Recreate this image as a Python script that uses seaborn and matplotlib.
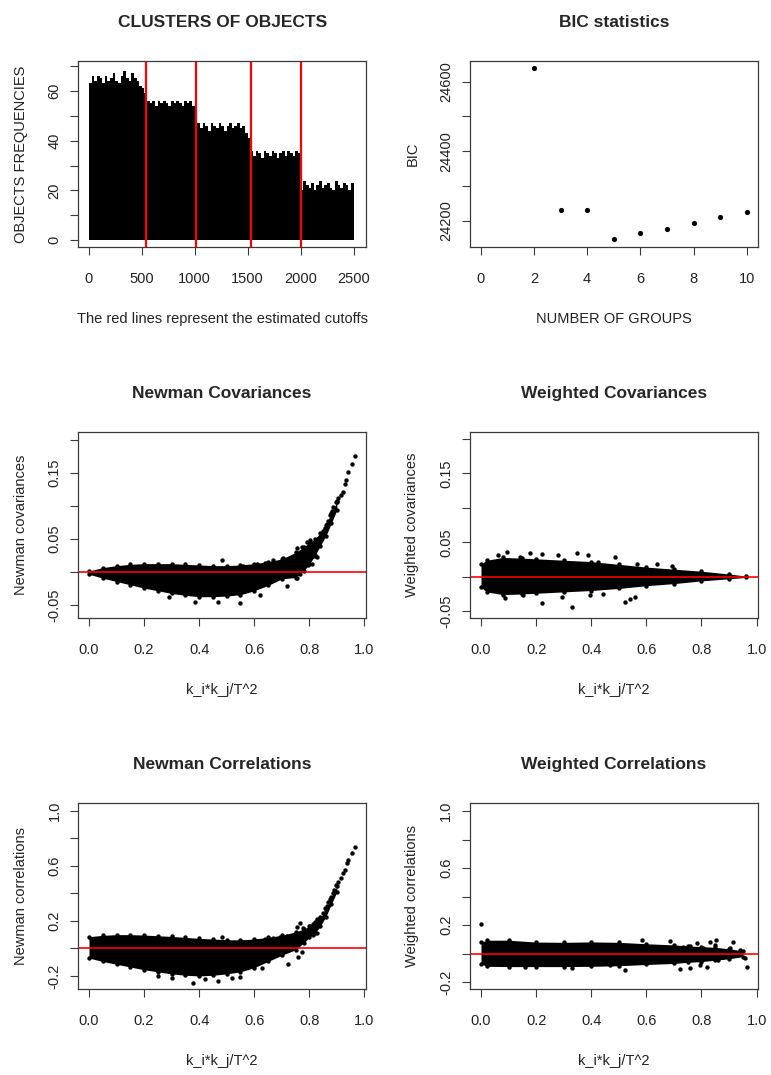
import numpy as np
import seaborn as sns
import matplotlib.pyplot as plt

# ---- data ----
# clusters of objects: heights per block of 25 objects (0..2500)
hist_seg1 = [63, 66, 64, 66, 65, 63, 66, 64, 65, 67, 64, 63, 66, 68, 65, 64, 67, 65, 64, 62, 61, 59]
hist_seg2 = [56, 55, 56, 54, 56, 55, 56, 55, 54, 56, 55, 56, 55, 54, 56, 55, 56, 54, 55]
hist_seg3 = [47, 45, 47, 46, 44, 47, 46, 45, 47, 46, 44, 46, 47, 45, 46, 47, 45, 46, 43, 41]
hist_seg4 = [36, 34, 36, 35, 33, 36, 35, 34, 36, 35, 33, 35, 36, 34, 36, 35, 34, 36, 35]
hist_seg5 = [20, 24, 22, 21, 23, 20, 22, 24, 21, 22, 23, 21, 20, 24, 22, 21, 23, 22, 20, 23]
cutoffs = [537, 1015, 1533, 2008]

# BIC statistics
groups = [2, 3, 4, 5, 6, 7, 8, 9, 10]
bic = [24638, 24232, 24232, 24147, 24165, 24176, 24193, 24210, 24224]

# Newman covariances: dense body (x, upper, lower) + single points
ncov_x = [0.0, 0.05, 0.10, 0.15, 0.20, 0.25, 0.30, 0.35, 0.40, 0.45, 0.50, 0.55, 0.60, 0.65, 0.70,
          0.75, 0.78, 0.80, 0.82, 0.84, 0.86, 0.88, 0.90]
ncov_hi = [0.002, 0.007, 0.010, 0.012, 0.013, 0.013, 0.013, 0.012, 0.011, 0.010, 0.010, 0.011, 0.013, 0.016, 0.020,
           0.030, 0.038, 0.045, 0.050, 0.060, 0.072, 0.090, 0.106]
ncov_lo = [-0.003, -0.009, -0.014, -0.019, -0.024, -0.028, -0.032, -0.035, -0.037, -0.037, -0.036, -0.034, -0.028, -0.020, -0.010,
           -0.008, 0.002, 0.012, 0.025, 0.040, 0.055, 0.074, 0.094]
ncov_px = [0.966, 0.954, 0.939, 0.933, 0.930, 0.924, 0.914, 0.905, 0.900, 0.896, 0.887, 0.884, 0.875, 0.869,
           0.863, 0.857, 0.849, 0.841, 0.834, 0.827, 0.818, 0.811, 0.803, 0.791, 0.815, 0.829, 0.778, 0.766,
           0.754, 0.773, 0.791, 0.803, 0.742, 0.718, 0.706, 0.670, 0.639, 0.609, 0.561, 0.482, 0.718, 0.766,
           0.754, 0.797, 0.809, 0.820, 0.549, 0.470, 0.386, 0.621, 0.289]
ncov_py = [0.176, 0.164, 0.152, 0.139, 0.133, 0.121, 0.117, 0.113, 0.108, 0.106, 0.098, 0.093, 0.086, 0.078,
           0.073, 0.067, 0.062, 0.056, 0.052, 0.048, 0.043, 0.038, 0.033, 0.028, 0.024, 0.023, 0.021, 0.023,
           0.036, 0.038, 0.046, 0.049, 0.021, 0.018, 0.021, 0.018, 0.014, 0.012, 0.010, 0.018, -0.021, -0.002,
           -0.009, 0.011, 0.013, 0.026, -0.046, -0.045, -0.045, -0.035, -0.037]

# Weighted covariances
wcov_x = [0.0, 0.02, 0.08, 0.15, 0.20, 0.30, 0.40, 0.50, 0.60, 0.70, 0.80, 0.90, 0.96]
wcov_hi = [0.018, 0.024, 0.028, 0.027, 0.026, 0.024, 0.022, 0.018, 0.014, 0.011, 0.008, 0.004, 0.001]
wcov_lo = [-0.015, -0.022, -0.026, -0.025, -0.024, -0.022, -0.020, -0.017, -0.013, -0.010, -0.006, -0.003, -0.001]
wcov_px = [0.093, 0.063, 0.178, 0.220, 0.280, 0.349, 0.389, 0.486, 0.565, 0.637, 0.692, 0.141, 0.425,
           0.220, 0.329, 0.522, 0.540, 0.559, 0.293, 0.087, 0.153, 0.395, 0.444]
wcov_py = [0.036, 0.032, 0.034, 0.033, 0.032, 0.035, 0.032, 0.028, 0.019, 0.018, 0.016, 0.029, 0.022,
           -0.038, -0.044, -0.036, -0.033, -0.029, -0.029, -0.031, -0.027, -0.027, -0.025]

# Newman correlations
ncor_x = [0.0, 0.05, 0.10, 0.15, 0.20, 0.25, 0.30, 0.35, 0.40, 0.45, 0.50, 0.55, 0.60, 0.65, 0.70,
          0.75, 0.78, 0.80, 0.82, 0.84, 0.86, 0.88, 0.90]
ncor_hi = [0.085, 0.095, 0.100, 0.100, 0.097, 0.092, 0.087, 0.080, 0.073, 0.068, 0.063, 0.062, 0.068, 0.080, 0.095,
           0.120, 0.140, 0.160, 0.185, 0.220, 0.280, 0.370, 0.450]
ncor_lo = [-0.070, -0.095, -0.115, -0.135, -0.155, -0.170, -0.185, -0.195, -0.200, -0.195, -0.185, -0.170, -0.140, -0.095, -0.050,
           -0.010, 0.040, 0.080, 0.110, 0.160, 0.230, 0.320, 0.410]
ncor_px = [0.966, 0.954, 0.942, 0.936, 0.930, 0.924, 0.914, 0.905, 0.897, 0.890, 0.885, 0.875, 0.869, 0.863,
           0.857, 0.849, 0.839, 0.829, 0.821, 0.812, 0.803, 0.797, 0.785, 0.773, 0.754, 0.766, 0.778, 0.815,
           0.827, 0.742, 0.718, 0.694, 0.670, 0.639, 0.609, 0.561, 0.482, 0.724, 0.773, 0.760, 0.379, 0.470,
           0.549, 0.627, 0.300, 0.420, 0.520, 0.250]
ncor_py = [0.733, 0.690, 0.641, 0.618, 0.569, 0.545, 0.509, 0.484, 0.460, 0.424, 0.400, 0.356, 0.339, 0.308,
           0.291, 0.255, 0.230, 0.211, 0.194, 0.177, 0.163, 0.134, 0.121, 0.110, 0.157, 0.182, 0.146, 0.097,
           0.110, 0.085, 0.090, 0.081, 0.073, 0.066, 0.056, 0.049, 0.085, -0.113, -0.024, -0.061, -0.249, -0.237,
           -0.205, -0.144, -0.215, -0.225, -0.215, -0.200]

# Weighted correlations
wcor_x = [0.0, 0.02, 0.10, 0.20, 0.30, 0.40, 0.50, 0.60, 0.70, 0.75, 0.80, 0.85, 0.90, 0.95]
wcor_hi = [0.080, 0.095, 0.095, 0.082, 0.080, 0.083, 0.080, 0.070, 0.062, 0.055, 0.050, 0.045, 0.035, 0.020]
wcor_lo = [-0.070, -0.088, -0.090, -0.090, -0.090, -0.088, -0.084, -0.075, -0.068, -0.060, -0.055, -0.045, -0.035, -0.020]
wcor_px = [0.0, 0.852, 0.831, 0.782, 0.758, 0.686, 0.583, 0.903, 0.885, 0.939, 0.958, 0.964, 0.928, 0.722,
           0.522, 0.819, 0.794, 0.861, 0.879, 0.806, 0.770, 0.734, 0.160, 0.329, 0.468, 0.915, 0.849, 0.758]
wcor_py = [0.206, 0.096, 0.080, 0.073, 0.057, 0.089, 0.096, 0.037, 0.014, 0.026, -0.028, -0.091, -0.009, -0.107,
           -0.114, -0.091, -0.081, -0.042, -0.026, 0.037, 0.026, 0.049, -0.091, -0.099, -0.077, 0.084, 0.059, -0.102]

# ---- figure ----
sns.set_style("ticks")
plt.rcParams['font.family'] = ['Liberation Sans', 'DejaVu Sans']

fig = plt.figure(figsize=(7.71, 10.75), dpi=100)
W, H = 0.373, 0.1735
ax1 = fig.add_axes([0.1016, 0.770, W, H])
ax2 = fig.add_axes([0.6096, 0.770, W, H])
ax3 = fig.add_axes([0.1016, 0.4248, W, H])
ax4 = fig.add_axes([0.6096, 0.4248, W, H])
ax5 = fig.add_axes([0.1016, 0.0797, W, H])
ax6 = fig.add_axes([0.6096, 0.0797, W, H])


def r_style(ax, title, xlabel, ylabel):
    for s in ax.spines.values():
        s.set_visible(True)
        s.set_color('#3a3a3a')
        s.set_linewidth(0.9)
    ax.tick_params(direction='out', length=6, width=0.8, color='#3a3a3a',
                   labelsize=10.5, labelcolor='#222222')
    ax.tick_params(axis='x', pad=11.5)
    ax.tick_params(axis='y', pad=6)
    for lab in ax.get_yticklabels():
        lab.set_rotation(90)
        lab.set_va('center')
    ax.set_title(title, fontsize=12.5, fontweight='bold', pad=24)
    ax.set_xlabel(xlabel, fontsize=10.5, color='#222222')
    ax.set_ylabel(ylabel, fontsize=10.5, color='#222222')
    ax.xaxis.label.set_va('center')
    ax.yaxis.label.set_va('center')
    ax.xaxis.set_label_coords(0.5, -0.385)
    ax.yaxis.set_label_coords(-0.2, 0.5)


def labels_every_other(ticks, fmt, start=0):
    return [fmt.format(t) if (i - start) % 2 == 0 else '' for i, t in enumerate(ticks)]


# panel 1: clusters of objects
heights = hist_seg1 + hist_seg2 + hist_seg3 + hist_seg4 + hist_seg5
centers = [12.5 + 25 * i for i in range(len(heights))]
sns.histplot(x=centers, weights=heights, binwidth=25, binrange=(0, 2500),
             color='black', alpha=1, linewidth=0, ax=ax1)
for c in cutoffs:
    ax1.axvline(c, color='#ff0000', lw=1.6)
ax1.set_xlim(-100, 2617)
ax1.set_ylim(-2.8, 72.1)
ax1.set_xticks([0, 500, 1000, 1500, 2000, 2500])
ax1.set_xticklabels(['0', '500', '1000', '1500', '2000', '2500'])
yt = list(range(0, 80, 10))
ax1.set_yticks(yt)
ax1.set_yticklabels(labels_every_other(yt, '{:d}'))
r_style(ax1, 'CLUSTERS OF OBJECTS', 'The red lines represent the estimated cutoffs', 'OBJECTS FREQUENCIES')

# panel 2: BIC
sns.scatterplot(x=groups, y=bic, color='black', s=14, linewidth=0, ax=ax2)
ax2.set_xlim(-0.4, 10.4)
ax2.set_ylim(24124, 24660)
ax2.set_xticks([0, 2, 4, 6, 8, 10])
yt = [24200, 24300, 24400, 24500, 24600]
ax2.set_yticks(yt)
ax2.set_yticklabels(labels_every_other(yt, '{:d}'))
r_style(ax2, 'BIC statistics', 'NUMBER OF GROUPS', 'BIC')


def cloud(ax, xs, hi, lo, px, py):
    ax.fill_between(xs, lo, hi, color='black', lw=0)
    sns.scatterplot(x=xs + xs, y=hi + lo, color='black', s=10, linewidth=0, ax=ax)
    sns.scatterplot(x=px, y=py, color='black', s=10, linewidth=0, ax=ax)
    ax.axhline(0, color='#ff0000', lw=1.2)


xt = [0.0, 0.2, 0.4, 0.6, 0.8, 1.0]
xtl = ['0.0', '0.2', '0.4', '0.6', '0.8', '1.0']
cov_t = [-0.05, 0.0, 0.05, 0.10, 0.15, 0.20]
cov_tl = labels_every_other(cov_t, '{:.2f}')
cor_t = [-0.2, 0.0, 0.2, 0.4, 0.6, 0.8, 1.0]
cor_tl = labels_every_other(cor_t, '{:.1f}')

cloud(ax3, ncov_x, ncov_hi, ncov_lo, ncov_px, ncov_py)
ax3.set_xlim(-0.0387, 1.0057)
ax3.set_ylim(-0.0697, 0.2123)
cloud(ax4, wcov_x, wcov_hi, wcov_lo, wcov_px, wcov_py)
ax4.set_xlim(-0.0399, 1.0036)
ax4.set_ylim(-0.0604, 0.2104)
cloud(ax5, ncor_x, ncor_hi, ncor_lo, ncor_px, ncor_py)
ax5.set_xlim(-0.0387, 1.0057)
ax5.set_ylim(-0.297, 1.057)
cloud(ax6, wcor_x, wcor_hi, wcor_lo, wcor_px, wcor_py)
ax6.set_xlim(-0.0399, 1.0036)
ax6.set_ylim(-0.249, 1.057)

for ax in (ax3, ax4):
    ax.set_yticks(cov_t)
    ax.set_yticklabels(cov_tl)
for ax in (ax5, ax6):
    ax.set_yticks(cor_t)
    ax.set_yticklabels(cor_tl)
for ax in (ax3, ax4, ax5, ax6):
    ax.set_xticks(xt)
    ax.set_xticklabels(xtl)

r_style(ax3, 'Newman Covariances', 'k_i*k_j/T^2', 'Newman covariances')
r_style(ax4, 'Weighted Covariances', 'k_i*k_j/T^2', 'Weighted covariances')
r_style(ax5, 'Newman Correlations', 'k_i*k_j/T^2', 'Newman correlations')
r_style(ax6, 'Weighted Correlations', 'k_i*k_j/T^2', 'Weighted correlations')

fig.savefig('out.png', dpi=100, facecolor='white')
